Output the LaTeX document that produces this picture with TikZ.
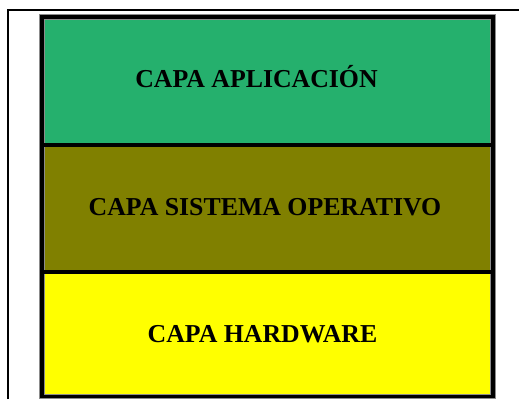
\documentclass[tikz,border=0pt]{standalone}
\usepackage{fontspec}
\setmainfont{Liberation Serif}
\definecolor{appgreen}{RGB}{37,176,109}
\definecolor{osolive}{RGB}{128,128,0}
\definecolor{hwyellow}{RGB}{255,255,0}
\tikzset{
  layertext/.style={font=\fontsize{25.8}{30}\selectfont\bfseries, text=black, anchor=base, inner sep=0pt},
  layerborder/.style={draw=black, line width=3.5pt},
  halo/.style={draw=black!45, line width=5.5pt}
}
\begin{document}
\begin{tikzpicture}[x=1pt,y=-1pt]
\useasboundingbox (0,0) rectangle (519,399);
\fill[white] (0,0) rectangle (519,399);
% outer frame
\draw[line width=1.6pt] (7.7,399) -- (7.7,9.7) -- (519,9.7);
% fills
\fill[appgreen] (42,17) rectangle (493,145);
\fill[osolive] (42,145) rectangle (493,272);
\fill[hwyellow] (42,272) rectangle (493,396.5);
% halo and borders
\draw[halo] (42,17) rectangle (493,396.5);
\draw[layerborder] (42,17) rectangle (493,396.5);
\draw[layerborder] (42,145) -- (493,145);
\draw[layerborder] (42,272) -- (493,272);
% labels
\node[layertext] (app) at (256.5,87) {CAPA APLICACIÓN};
\node[layertext] (os) at (265,215) {CAPA SISTEMA OPERATIVO};
\node[layertext] (hw) at (262.5,342) {CAPA HARDWARE};
\end{tikzpicture}
\end{document}
